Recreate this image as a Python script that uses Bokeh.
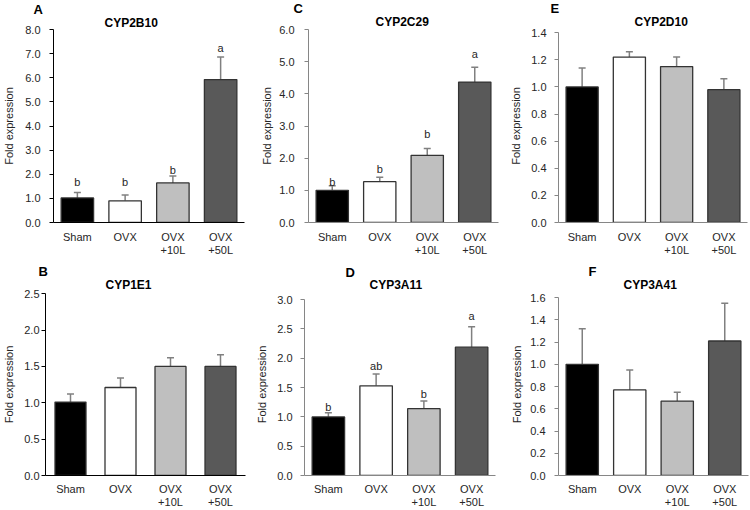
from bokeh.plotting import figure
from bokeh.models import (FactorRange, Range1d, Whisker, ColumnDataSource, Title,
                          TeeHead, FixedTicker, PrintfTickFormatter)
from bokeh.layouts import column, row
from bokeh.embed import file_html
from bokeh.resources import INLINE
from bokeh.core.properties import value

# ---------------- data ----------------
groups = ["Sham", "OVX", "OVX\n+10L", "OVX\n+50L"]
bar_colors = ["#000000", "#ffffff", "#bfbfbf", "#595959"]

# A  CYP2B10
a_mean = [1.02, 0.90, 1.64, 5.93]
a_upper = [1.24, 1.14, 1.93, 6.87]
a_sig = ["b", "b", "b", "a"]
a_sig_y = [1.68, 1.68, 2.17, 7.22]

# C  CYP2C29
c_mean = [1.00, 1.27, 2.09, 4.37]
c_upper = [1.14, 1.41, 2.30, 4.83]
c_sig = ["b", "b", "b", "a"]
c_sig_y = [1.27, 1.65, 2.74, 5.24]

# E  CYP2D10
e_mean = [1.00, 1.22, 1.15, 0.98]
e_upper = [1.14, 1.26, 1.22, 1.06]

# B  CYP1E1
b_mean = [1.01, 1.21, 1.50, 1.50]
b_upper = [1.12, 1.34, 1.62, 1.66]

# D  CYP3A11
d_mean = [1.00, 1.53, 1.14, 2.19]
d_upper = [1.07, 1.73, 1.27, 2.54]
d_sig = ["b", "ab", "b", "a"]
d_sig_y = [1.17, 1.87, 1.39, 2.73]

# F  CYP3A41
f_mean = [1.00, 0.77, 0.67, 1.21]
f_upper = [1.32, 0.95, 0.75, 1.55]

FONT = "Liberation Sans"
TXT = "#262626"
H1, D1 = 14.4, 3.0   # name title: text box height, box bottom below baseline
H2, D2 = 15.6, 3.3   # letter title

# row geometry in page pixels: fig top, fig height, common frame top, common frame bottom
rows = [dict(fy=0, fh=258, T=29, B=222), dict(fy=258, fh=252, T=293, B=475)]

# per panel: column x, width, frame left/right, visible top tick pixel,
# letter (left, baseline), name (left, baseline)
panels = [
    dict(letter="A", name="CYP2B10", mean=a_mean, upper=a_upper, sig=a_sig, sig_y=a_sig_y,
         top=8.0, step=1.0, axis="#000000", row=0, fx=0, fw=250, lr=(52, 244), vt=29,
         mls=9, als=7, lpos=(32, 15), tpos=(103, 25.5), bw=0.68),
    dict(letter="C", name="CYP2C29", mean=c_mean, upper=c_upper, sig=c_sig, sig_y=c_sig_y,
         top=6.0, step=1.0, axis="#868686", row=0, fx=250, fw=250, lr=(308, 498), vt=29,
         mls=10, als=3, lpos=(293, 14), tpos=(375, 25), bw=0.68),
    dict(letter="E", name="CYP2D10", mean=e_mean, upper=e_upper, sig=None, sig_y=None,
         top=1.4, step=0.2, axis="#868686", row=0, fx=500, fw=250, lr=(558, 747), vt=32,
         mls=8, als=6, lpos=(550, 14), tpos=(634, 25), bw=0.68),
    dict(letter="B", name="CYP1E1", mean=b_mean, upper=b_upper, sig=None, sig_y=None,
         top=2.5, step=0.5, axis="#000000", row=1, fx=0, fw=250, lr=(40, 245), vt=293,
         mls=2, als=6, lpos=(33, 280), tpos=(100, 286), bw=0.62),
    dict(letter="D", name="CYP3A11", mean=d_mean, upper=d_upper, sig=d_sig, sig_y=d_sig_y,
         top=3.0, step=0.5, axis="#868686", row=1, fx=250, fw=250, lr=(304, 495), vt=299,
         mls=8, als=6, lpos=(345, 280), tpos=(369, 287), bw=0.68),
    dict(letter="F", name="CYP3A41", mean=f_mean, upper=f_upper, sig=None, sig_y=None,
         top=1.6, step=0.2, axis="#868686", row=1, fx=500, fw=250, lr=(558, 748), vt=297,
         mls=9, als=4, lpos=(588, 279), tpos=(623, 287), bw=0.68),
]


def make(pn):
    rw = rows[pn["row"]]
    fx, fw, fy, fh = pn["fx"], pn["fw"], rw["fy"], rw["fh"]
    l, r = pn["lr"]
    T, B = rw["T"], rw["B"]
    top = pn["top"]
    # extend the range above the last tick so that the tick sits at its own pixel row
    y_end = top * max(1.0, (B - T) / (B - pn["vt"])) * 1.001
    p = figure(width=fw, height=fh, x_range=FactorRange(factors=groups),
               y_range=Range1d(0, y_end), output_backend="svg", toolbar_location=None,
               title_location=None,
               min_border_left=l - fx, min_border_right=fx + fw - r,
               min_border_top=T - fy, min_border_bottom=fy + fh - B)
    p.outline_line_color = None
    p.grid.visible = False
    p.background_fill_color = "white"
    p.border_fill_color = "white"

    src = ColumnDataSource(dict(x=groups, top=pn["mean"], upper=pn["upper"], color=bar_colors))
    w = Whisker(source=src, base="x", upper="upper", lower="top", dimension="height",
                line_color="#808080", line_width=1.5,
                upper_head=TeeHead(size=7, line_color="#808080", line_width=1.5),
                lower_head=None)
    p.add_layout(w)
    p.vbar(x="x", top="top", width=pn["bw"], source=src, fill_color="color",
           line_color="#333333", line_width=1.3)

    if pn["sig"] is not None:
        ssrc = ColumnDataSource(dict(x=groups, y=pn["sig_y"], t=pn["sig"]))
        p.text(x="x", y="y", text="t", source=ssrc, text_align="center",
               text_baseline="alphabetic", text_font=value(FONT), text_font_size="11px",
               text_color=TXT)

    n = int(round(top / pn["step"]))
    ticks = [round(i * pn["step"], 2) for i in range(n + 1)]
    p.yaxis.ticker = FixedTicker(ticks=ticks)
    p.yaxis.bounds = (0, top)
    p.yaxis.formatter = PrintfTickFormatter(format="%.1f")
    p.yaxis.minor_tick_line_color = None
    p.yaxis.major_tick_in = 0
    p.yaxis.major_tick_out = 4
    p.yaxis.major_label_standoff = pn["mls"]
    p.yaxis.axis_label = "Fold expression"
    p.yaxis.axis_label_standoff = pn["als"]
    p.yaxis.axis_label_text_font = FONT
    p.yaxis.axis_label_text_font_size = "11px"
    p.yaxis.axis_label_text_font_style = "normal"
    p.yaxis.axis_label_text_color = TXT

    for ax in (p.xaxis, p.yaxis):
        ax.axis_line_color = pn["axis"]
        ax.axis_line_width = 1
        ax.major_tick_line_color = pn["axis"]
        ax.major_label_text_font = FONT
        ax.major_label_text_font_size = "11px"
        ax.major_label_text_color = TXT

    p.xaxis.major_tick_line_color = None
    p.xaxis.minor_tick_line_color = None
    p.xaxis.major_tick_out = 0
    p.xaxis.major_tick_in = 0
    p.xaxis.major_label_standoff = 8 if pn["row"] == 0 else 7
    p.xaxis.major_label_text_line_height = 1.1

    # titles: gene name right above the frame, panel letter stacked above it
    yl = max(pn["lpos"][1], fy + 15)
    s1 = int(round(T - pn["tpos"][1] - D1))
    s2 = int(round(T - 2 - H1 - s1 - yl - D2))
    p.add_layout(Title(text=pn["name"], align="left", offset=pn["tpos"][0] - l, standoff=s1,
                       text_font=FONT, text_font_size="12px", text_font_style="bold",
                       text_color="#000000"), "above")
    p.add_layout(Title(text=pn["letter"], align="left", offset=pn["lpos"][0] - l, standoff=s2,
                       text_font=FONT, text_font_size="13px", text_font_style="bold",
                       text_color="#000000"), "above")
    return p


figs = [make(pn) for pn in panels]
layout = column(row(*figs[:3]), row(*figs[3:]))

open("out.html", "w").write(file_html(layout, INLINE))
